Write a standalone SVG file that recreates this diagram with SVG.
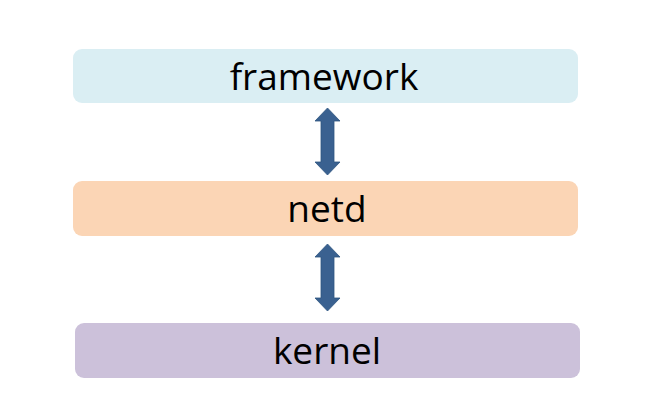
<svg xmlns="http://www.w3.org/2000/svg" width="652" height="417" viewBox="0 0 652 417">
<style>
.box{stroke:none}
.lbl{font-family:"Open Sans","Liberation Sans",sans-serif;font-size:37px;fill:#000;text-anchor:middle;dominant-baseline:central}
.arr{fill:#3A6190;stroke:#2F5580;stroke-width:0.8}
</style>
<rect width="652" height="417" fill="#fff"/>
<g id="framework">
<rect class="box" x="73" y="49" width="505" height="54" rx="9" fill="#DAEEF3"/>
<text class="lbl" x="324" y="75">framework</text>
</g>
<g id="netd">
<rect class="box" x="73" y="181" width="505" height="55" rx="9" fill="#FBD5B5"/>
<text class="lbl" x="327" y="207">netd</text>
</g>
<g id="kernel">
<rect class="box" x="75" y="323" width="505" height="55" rx="9" fill="#CCC1DA"/>
<text class="lbl" x="327" y="349">kernel</text>
</g>
<g id="connectors">
<path class="arr" d="M327.5,108 L340,121 L334,121 L334,162 L340,162 L327.5,175 L315,162 L321,162 L321,121 L315,121 Z"/>
<path class="arr" d="M327.5,244 L340,257 L334,257 L334,298 L340,298 L327.5,311 L315,298 L321,298 L321,257 L315,257 Z"/>
</g>
</svg>
